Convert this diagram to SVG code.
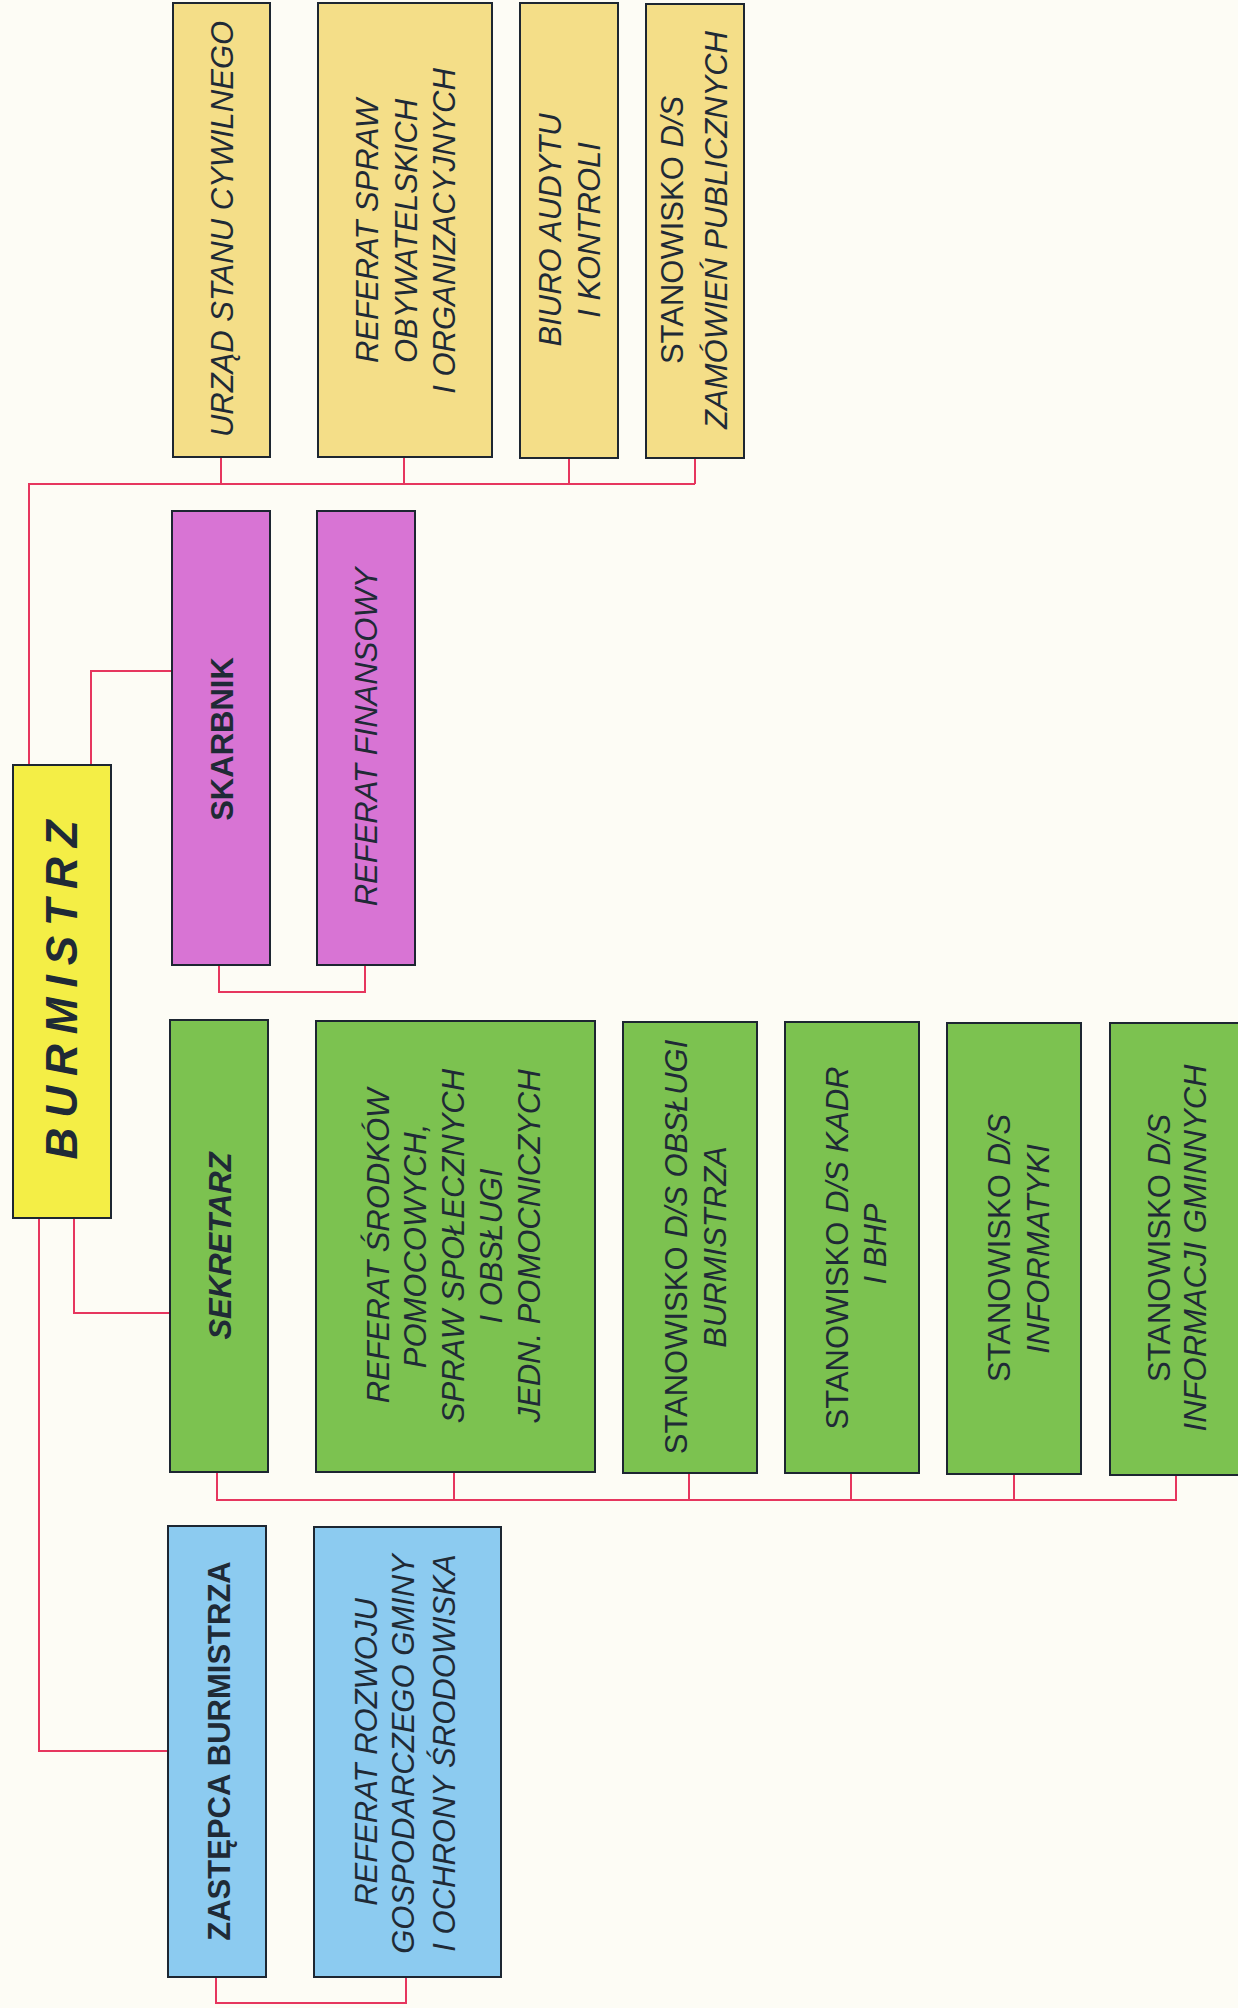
<svg xmlns="http://www.w3.org/2000/svg" width="1238" height="2008" viewBox="0 0 1238 2008">
<style>
.box{stroke:#1d2631;stroke-width:2}
.y{fill:#f4de88}
.by{fill:#f4ee46}
.m{fill:#d874d4}
.g{fill:#7cc250}
.b{fill:#8ccbf0}
text{font-family:"Liberation Sans",Arial,sans-serif;font-size:31px;fill:#1f2a36;text-anchor:middle}
.i{font-style:italic}
.bd{font-weight:bold}
.u{font-style:normal}
.con{fill:none;stroke:#e6365e;stroke-width:2}
</style>
<rect x="0" y="0" width="1238" height="2008" fill="#fdfcf5"/>
<g id="connectors" class="con">
<path d="M29 765 V484 H695"/>
<path d="M221 457 V484 M404 457 V484 M569 458 V484 M695 458 V484"/>
<path d="M91 765 V671 H172"/>
<path d="M219 965 V992 H365 V965"/>
<path d="M74 1218 V1313 H170"/>
<path d="M39 1218 V1751 H168"/>
<path d="M217 1472 V1500 H1176 V1475"/>
<path d="M454 1472 V1500 M689 1473 V1500 M851 1473 V1500 M1014 1474 V1500"/>
<path d="M216 1977 V2003 H406 V1977"/>
</g>
<g id="n-urzad"><rect class="box y" x="173" y="3" width="97" height="454"/>
<text class="i" transform="translate(233 229) rotate(-90)">URZĄD STANU CYWILNEGO</text></g>
<g id="n-ref-spraw"><rect class="box y" x="318" y="3" width="174" height="454"/>
<text class="i" transform="translate(378 231) rotate(-90)">REFERAT SPRAW</text>
<text class="i" transform="translate(417 231) rotate(-90)">OBYWATELSKICH</text>
<text class="i" transform="translate(455 231) rotate(-90)">I ORGANIZACYJNYCH</text></g>
<g id="n-biuro"><rect class="box y" x="520" y="3" width="98" height="455"/>
<text class="i" transform="translate(561 230) rotate(-90)">BIURO AUDYTU</text>
<text class="i" transform="translate(600 230) rotate(-90)">I KONTROLI</text></g>
<g id="n-zamowien"><rect class="box y" x="646" y="4" width="98" height="454"/>
<text class="i" transform="translate(683 230) rotate(-90)"><tspan class="u">STANOWISKO</tspan> D/S</text>
<text class="i" transform="translate(727 230) rotate(-90)">ZAMÓWIEŃ PUBLICZNYCH</text></g>
<g id="n-burmistrz"><rect class="box by" x="13" y="765" width="98" height="453"/>
<text class="i bd" style="font-size:44px;letter-spacing:10px" transform="translate(77 985) rotate(-90)">BURMISTRZ</text></g>
<g id="n-skarbnik"><rect class="box m" x="172" y="511" width="98" height="454"/>
<text class="bd" transform="translate(233 739) rotate(-90)">SKARBNIK</text></g>
<g id="n-ref-fin"><rect class="box m" x="317" y="511" width="98" height="454"/>
<text class="i" transform="translate(377 737) rotate(-90)">REFERAT FINANSOWY</text></g>
<g id="n-sekretarz"><rect class="box g" x="170" y="1020" width="98" height="452"/>
<text class="i bd" transform="translate(231 1246) rotate(-90)">SEKRETARZ</text></g>
<g id="n-ref-srodkow"><rect class="box g" x="316" y="1021" width="279" height="451"/>
<text class="i" transform="translate(389 1246) rotate(-90)">REFERAT ŚRODKÓW</text>
<text class="i" transform="translate(426 1246) rotate(-90)">POMOCOWYCH,</text>
<text class="i" transform="translate(464 1246) rotate(-90)">SPRAW SPOŁECZNYCH</text>
<text class="i" transform="translate(502 1246) rotate(-90)">I OBSŁUGI</text>
<text class="i" transform="translate(540 1246) rotate(-90)">JEDN. POMOCNICZYCH</text></g>
<g id="n-obslugi"><rect class="box g" x="623" y="1022" width="134" height="451"/>
<text class="i" transform="translate(687 1247) rotate(-90)"><tspan class="u">STANOWISKO</tspan> D/S OBSŁUGI</text>
<text class="i" transform="translate(726 1247) rotate(-90)">BURMISTRZA</text></g>
<g id="n-kadr"><rect class="box g" x="785" y="1022" width="134" height="451"/>
<text class="i" transform="translate(848 1248) rotate(-90)"><tspan class="u">STANOWISKO</tspan> D/S KADR</text>
<text class="i" transform="translate(886 1244) rotate(-90)">I BHP</text></g>
<g id="n-informatyki"><rect class="box g" x="947" y="1023" width="134" height="451"/>
<text class="i" transform="translate(1010 1248) rotate(-90)"><tspan class="u">STANOWISKO</tspan> D/S</text>
<text class="i" transform="translate(1049 1249) rotate(-90)">INFORMATYKI</text></g>
<g id="n-gminnych"><rect class="box g" x="1110" y="1023" width="134" height="452"/>
<text class="i" transform="translate(1170 1248) rotate(-90)"><tspan class="u">STANOWISKO</tspan> D/S</text>
<text class="i" transform="translate(1206 1248) rotate(-90)">INFORMACJI GMINNYCH</text></g>
<g id="n-zastepca"><rect class="box b" x="168" y="1526" width="98" height="451"/>
<text class="bd" transform="translate(230 1751) rotate(-90)">ZASTĘPCA BURMISTRZA</text></g>
<g id="n-ref-rozwoju"><rect class="box b" x="314" y="1527" width="187" height="450"/>
<text class="i" transform="translate(377 1752) rotate(-90)">REFERAT ROZWOJU</text>
<text class="i" transform="translate(414 1754) rotate(-90)">GOSPODARCZEGO GMINY</text>
<text class="i" transform="translate(455 1753) rotate(-90)">I OCHRONY ŚRODOWISKA</text></g>
</svg>
